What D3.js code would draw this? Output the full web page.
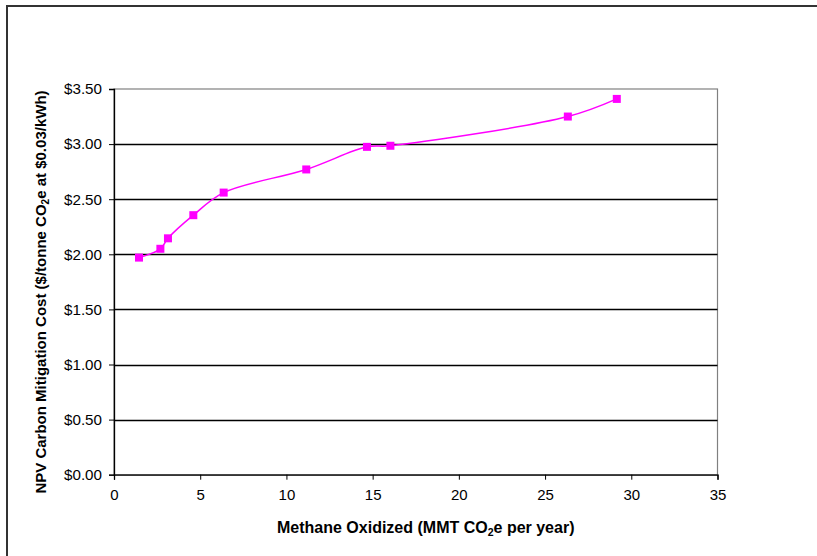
<!DOCTYPE html>
<html>
<head>
<meta charset="utf-8">
<script src="https://cdn.jsdelivr.net/npm/d3@7/dist/d3.min.js"></script>
<style>
  html, body { margin: 0; padding: 0; background: #fff; }
  svg { display: block; font-family: "Liberation Sans", Arial, sans-serif; }
</style>
</head>
<body>
<svg id="chart" width="817" height="556"></svg>
<script>
// Methane oxidized (MMT CO2e per year) vs. NPV carbon mitigation cost
const methaneOxidized = [1.45, 2.69, 3.13, 4.60, 6.36, 11.15, 14.67, 16.03, 26.32, 29.16];
const mitigationCost  = [1.97, 2.05, 2.145, 2.355, 2.56, 2.77, 2.975, 2.985, 3.25, 3.41];
const xTicks = [0, 5, 10, 15, 20, 25, 30, 35];
const yTicks = [0, 0.5, 1.0, 1.5, 2.0, 2.5, 3.0, 3.5];

const svg = d3.select("#chart");
const plot = { left: 114, right: 717.5, top: 89, bottom: 474.7 };
const font = "'Liberation Sans', Arial, sans-serif";

// Outer chart frame (extends past the visible area on right and bottom)
svg.append("rect")
  .attr("x", 7).attr("y", 6)
  .attr("width", 830).attr("height", 570)
  .attr("fill", "#fff")
  .attr("stroke", "#333").attr("stroke-width", 2);

const x = d3.scaleLinear().domain([0, 35]).range([plot.left, plot.right]);
const y = d3.scaleLinear().domain([0, 3.5]).range([plot.bottom, plot.top]);

// Plot area border
svg.append("rect")
  .attr("x", plot.left).attr("y", plot.top)
  .attr("width", plot.right - plot.left).attr("height", plot.bottom - plot.top)
  .attr("fill", "none").attr("stroke", "#808080").attr("stroke-width", 1.2);

// Horizontal gridlines
svg.append("g")
  .selectAll("line")
  .data(yTicks.filter(d => d > 0 && d < 3.5))
  .join("line")
  .attr("x1", plot.left).attr("x2", plot.right)
  .attr("y1", d => Math.round(y(d)) + 0.5).attr("y2", d => Math.round(y(d)) + 0.5)
  .attr("stroke", "#000").attr("stroke-width", 1.3);

// Y axis
const yAxis = svg.append("g")
  .attr("transform", `translate(${plot.left},0)`)
  .call(d3.axisLeft(y).tickValues(yTicks).tickSize(5).tickPadding(7)
    .tickFormat(d => "$" + d3.format(".2f")(d)));
yAxis.select(".domain").attr("stroke", "#000").attr("stroke-width", 1.3);
yAxis.selectAll(".tick line").attr("stroke", "#000");
yAxis.selectAll("text").attr("font-size", 15).attr("fill", "#000")
  .attr("font-family", font).attr("textLength", 38).attr("lengthAdjust", "spacingAndGlyphs");

// X axis
const xAxis = svg.append("g")
  .attr("transform", `translate(0,${plot.bottom})`)
  .call(d3.axisBottom(x).tickValues(xTicks).tickSize(5).tickPadding(10));
xAxis.select(".domain").attr("stroke", "#000").attr("stroke-width", 1.3);
xAxis.selectAll(".tick line").attr("stroke", "#000");
xAxis.selectAll("text").attr("font-size", 15).attr("fill", "#000")
  .attr("font-family", font);

// Smoothed series line
const data = methaneOxidized.map((v, i) => ({ x: v, y: mitigationCost[i] }));
svg.append("path")
  .datum(data)
  .attr("fill", "none")
  .attr("stroke", "#ff00ff")
  .attr("stroke-width", 1.5)
  .attr("d", d3.line().x(d => x(d.x)).y(d => y(d.y)).curve(d3.curveCatmullRom.alpha(0.5)));

// Square markers
const ms = 8;
svg.append("g")
  .selectAll("rect")
  .data(data)
  .join("rect")
  .attr("x", d => x(d.x) - ms / 2)
  .attr("y", d => y(d.y) - ms / 2)
  .attr("width", ms).attr("height", ms)
  .attr("fill", "#ff00ff");

// X axis title
const xt = svg.append("text")
  .attr("x", (plot.left + plot.right) / 2 + 10).attr("y", 533)
  .attr("text-anchor", "middle")
  .attr("font-size", 16).attr("font-weight", "bold");
xt.append("tspan").text("Methane Oxidized (MMT CO");
xt.append("tspan").attr("font-size", 10.5).attr("dy", 3).text("2");
xt.append("tspan").attr("dy", -3).text("e per year)");

// Y axis title
const yt = svg.append("text")
  .attr("transform", "translate(46,292) rotate(-90)")
  .attr("text-anchor", "middle")
  .attr("font-size", 15).attr("font-weight", "bold");
yt.append("tspan").text("NPV Carbon Mitigation Cost ($/tonne CO");
yt.append("tspan").attr("font-size", 10).attr("dy", 3).text("2");
yt.append("tspan").attr("dy", -3).text("e at $0.03/kWh)");
</script>
</body>
</html>
